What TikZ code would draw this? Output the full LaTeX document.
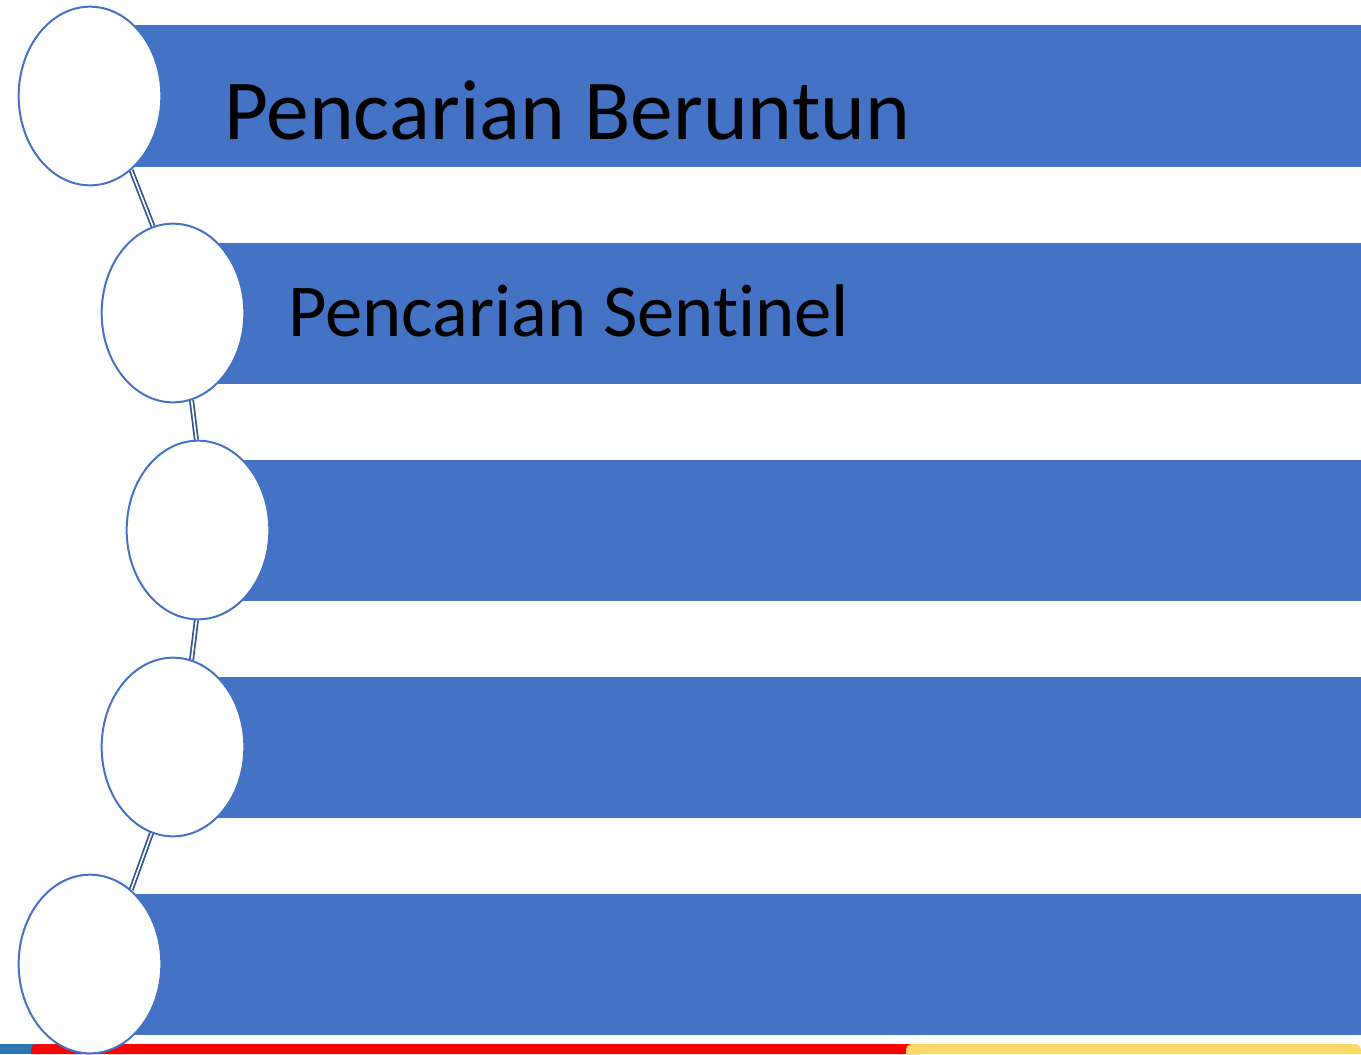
\documentclass[tikz,border=0pt]{standalone}
\usepackage{fontspec}
\setmainfont[Ligatures=NoCommon]{Carlito}
\usetikzlibrary{shapes.geometric}
\definecolor{band}{HTML}{4472C4}
\definecolor{link}{HTML}{2F5597}
\definecolor{sblue}{HTML}{2E75B6}
\definecolor{sred}{HTML}{FF0000}
\definecolor{syellow}{HTML}{FFD966}
\tikzset{
  bandbox/.style={fill=band,draw=none},
  bubble/.style={ellipse,draw=band,fill=white,line width=1.5pt,minimum width=107pt,minimum height=134pt,inner sep=0pt},
  linker/.style={draw=link,line width=1.3pt,double=white,double distance=1.2pt},
  label/.style={anchor=base west,inner sep=0pt,text=black}
}
\begin{document}
\begin{tikzpicture}[x=0.75pt,y=-0.75pt]
\useasboundingbox (0,0) rectangle (1361,1054);
% bands
\fill[band] (90,25) rectangle (1361,167);
\fill[band] (173,243) rectangle (1361,384);
\fill[band] (198,460) rectangle (1361,601);
\fill[band] (173,677) rectangle (1361,818);
\fill[band] (90,894) rectangle (1361,1035);
% bottom strip
\fill[sblue] (0,1044) rectangle (40,1054);
\fill[sred,rounded corners=4] (31,1054) -- (31,1044) -- (920,1044) [sharp corners]-- (920,1054) -- cycle;
\fill[syellow,rounded corners=4] (906,1054) -- (906,1044) -- (1361,1044) [sharp corners]-- (1361,1054) -- cycle;
% circles
\node[bubble] (c1) at (90,96) {};
\node[bubble] (c2) at (173,313) {};
\node[bubble] (c3) at (198,530) {};
\node[bubble] (c4) at (173,747) {};
\node[bubble] (c5) at (90,964) {};
% connectors
\draw[linker] (c1.-61) -- (c2.103);
\draw[linker] (c2.-78) -- (c3.91);
\draw[linker] (c3.-91) -- (c4.78);
\draw[linker] (c4.256) -- (c5.61);
% labels
\node[label,font=\fontsize{64}{68}\selectfont] (t1) at (224,139) {Pencarian Beruntun};
\node[label,font=\fontsize{56}{60}\selectfont] (t2) at (288,336) {Pencarian Sentinel};
\end{tikzpicture}
\end{document}
